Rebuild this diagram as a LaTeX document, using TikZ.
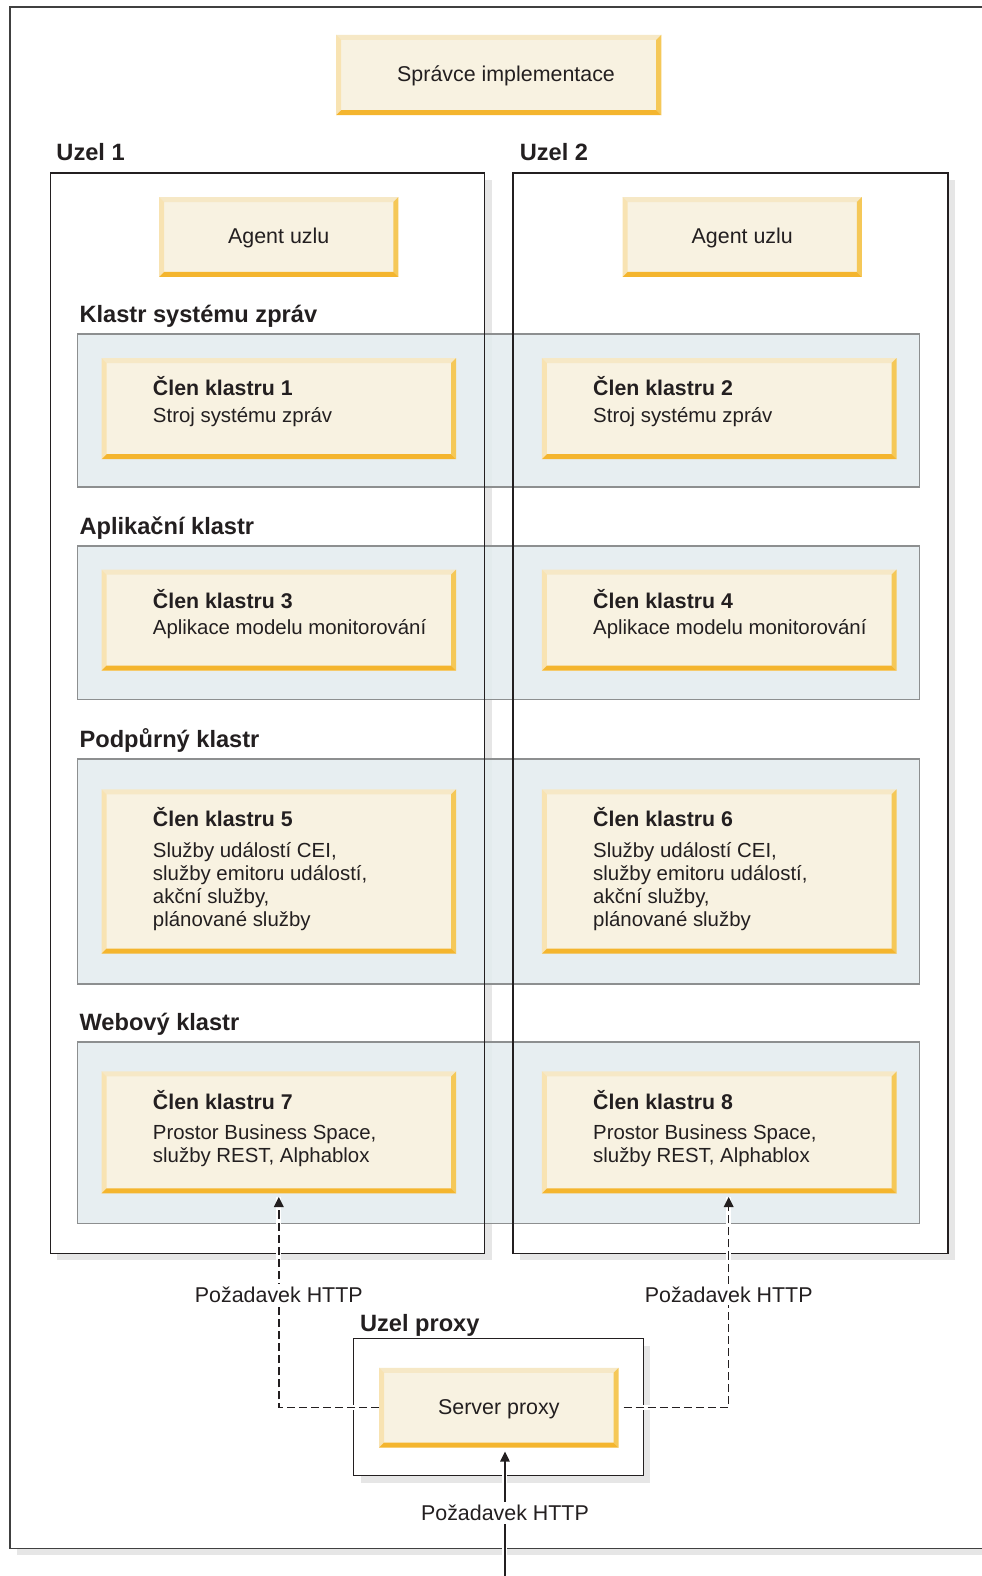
\documentclass[tikz,border=0pt]{standalone}
\usepackage{fontspec}
\setmainfont{Liberation Sans}
\usetikzlibrary{calc,arrows.meta}
\definecolor{cream}{HTML}{F8F2E1}
\definecolor{bvtop}{HTML}{F6E8C6}
\definecolor{bvleft}{HTML}{F8E3B2}
\definecolor{bvright}{HTML}{F5C858}
\definecolor{bvbot}{HTML}{F4B52E}
\definecolor{clfill}{HTML}{E3ECEF}
\definecolor{clline}{HTML}{8D8F90}
\definecolor{shadowgrey}{HTML}{E6E6E6}
\definecolor{ink}{HTML}{231F20}
\newcommand\bevelbox[1]{%
  \fill[bvtop] (#1.north west) -- (#1.north east) -- ($(#1.north east)+(-5,5)$) -- ($(#1.north west)+(5,5)$) -- cycle;
  \fill[bvleft] (#1.north west) -- ($(#1.north west)+(5,5)$) -- ($(#1.south west)+(5,-5)$) -- (#1.south west) -- cycle;
  \fill[bvright] (#1.north east) -- ($(#1.north east)+(-5,5)$) -- ($(#1.south east)+(-5,-5)$) -- (#1.south east) -- cycle;
  \fill[bvbot] (#1.south west) -- (#1.south east) -- ($(#1.south east)+(-5,-5)$) -- ($(#1.south west)+(5,-5)$) -- cycle;
}
\newcommand\mtitle[1]{\rule{0pt}{20pt}{\fontsize{21.2}{22.8}\selectfont\bfseries #1}}
\begin{document}
\begin{tikzpicture}[x=1pt,y=-1pt,
  lbl/.style={font=\fontsize{23.5}{27}\selectfont\bfseries, anchor=base west, inner sep=0pt, text=ink},
  mtxt/.style={font=\fontsize{20.3}{22.8}\selectfont, align=left, anchor=north west, inner sep=0pt, text=ink},
  boxnode/.style={fill=cream, inner sep=0pt, text=ink, font=\fontsize{21.3}{24}\selectfont, text height=15.3pt, text depth=1.5pt},
  mbox/.style={fill=cream, inner sep=0pt, minimum width=352.4pt},
  frame/.style={draw=ink, line width=1.3pt},
  outer/.style={draw=black!75, line width=1.3pt},
  cluster/.style={fill=clfill, fill opacity=0.85, draw=clline, line width=1.6pt},
  halo/.style={preaction={draw=white, line width=5pt, solid, arrows=-}},
  dflow/.style={halo, draw=ink, line width=1.5pt, dash pattern=on 8pt off 4pt, -{Triangle[length=10pt,width=9.5pt]}},
  sflow/.style={halo, draw=ink, line width=1.4pt, -{Triangle[length=10pt,width=9.5pt]}},
  req/.style={fill=white, inner sep=3pt, text=ink, font=\fontsize{21.3}{24}\selectfont, anchor=base}
]
\useasboundingbox (0,0) rectangle (977,1568);
\clip (0,0) rectangle (977,1568);
\fill[white] (0,0) rectangle (977,1568);

% outer frame
\fill[shadowgrey] (17,14) rectangle (990,1547.4);
\fill[white] (10,7) rectangle (990,1540.4);
\draw[outer] (990,7) -- (10,7) -- (10,1540.4) -- (990,1540.4);

% node frames: shadows and white interiors
\fill[shadowgrey] (57,179) rectangle (489,1254);
\fill[white] (50,172) rectangle (482,1247);
\fill[shadowgrey] (517.5,179) rectangle (950.3,1254);
\fill[white] (510.5,172) rectangle (943.3,1247);
\fill[shadowgrey] (359,1339) rectangle (647,1475);
\fill[white] (352,1332) rectangle (640,1468);

% clusters
\draw[cluster] (77,332.3) rectangle (914.7,484.8);
\draw[cluster] (77,543) rectangle (914.7,696);
\draw[cluster] (77,755) rectangle (914.7,979);
\draw[cluster] (77,1037) rectangle (914.7,1217.1);

% frame lines
\draw[frame] (50,172) rectangle (482,1247);
\draw[frame] (510.5,172) rectangle (943.3,1247);
\draw[frame] (352,1332) rectangle (640,1468);

% labels
\node[lbl] (lu1) at (56,160) {Uzel 1};
\node[lbl] (lu2) at (517,160) {Uzel 2};
\node[lbl] (lc1) at (79,321) {Klastr systému zpráv};
\node[lbl] (lc2) at (79,531.5) {Aplikační klastr};
\node[lbl] (lc3) at (79,743.5) {Podpůrný klastr};
\node[lbl] (lc4) at (79,1025.5) {Webový klastr};
\node[lbl] (lup) at (358,1325) {Uzel proxy};

% single-line boxes
\node[boxnode, minimum width=323pt, minimum height=79.6pt] (dm) at (496.2,74.6) {};
\bevelbox{dm}
\node[boxnode] (dmt) at (503.5,74.6) {Správce implementace};
\node[boxnode, minimum width=237.5pt, minimum height=79pt] (ag1) at (277.3,235.8) {Agent uzlu};
\bevelbox{ag1}
\node[boxnode, minimum width=237.5pt, minimum height=79pt] (ag2) at (738.5,235.8) {Agent uzlu};
\bevelbox{ag2}
\node[boxnode, minimum width=237.8pt, minimum height=79pt] (srv) at (496.3,1400.5) {Server proxy};
\bevelbox{srv}

% cluster members
\node[mbox, minimum height=100.2pt] (m1) at (277.4,406.6) {};
\bevelbox{m1}
\node[mbox, minimum height=100.2pt] (m2) at (715.6,406.6) {};
\bevelbox{m2}
\node[mbox, minimum height=100.2pt] (m3) at (277.4,617) {};
\bevelbox{m3}
\node[mbox, minimum height=100.2pt] (m4) at (715.6,617) {};
\bevelbox{m4}
\node[mbox, minimum height=163pt] (m5) at (277.4,867) {};
\bevelbox{m5}
\node[mbox, minimum height=163pt] (m6) at (715.6,867) {};
\bevelbox{m6}
\node[mbox, minimum height=121pt] (m7) at (277.4,1126.7) {};
\bevelbox{m7}
\node[mbox, minimum height=121pt] (m8) at (715.6,1126.7) {};
\bevelbox{m8}

\node[mtxt] (t1) at (152,373.7) {\mtitle{Člen klastru 1}\\[3.5pt]Stroj systému zpráv};
\node[mtxt] (t2) at (590,373.7) {\mtitle{Člen klastru 2}\\[3.5pt]Stroj systému zpráv};
\node[mtxt] (t3) at (152,585) {\mtitle{Člen klastru 3}\\[3.5pt]Aplikace modelu monitorování};
\node[mtxt] (t4) at (590,585) {\mtitle{Člen klastru 4}\\[3.5pt]Aplikace modelu monitorování};
\node[mtxt] (t5) at (152,802.5) {\mtitle{Člen klastru 5}\\[8pt]Služby událostí CEI,\\služby emitoru událostí,\\akční služby,\\plánované služby};
\node[mtxt] (t6) at (590,802.5) {\mtitle{Člen klastru 6}\\[8pt]Služby událostí CEI,\\služby emitoru událostí,\\akční služby,\\plánované služby};
\node[mtxt] (t7) at (152,1084) {\mtitle{Člen klastru 7}\\[6.7pt]Prostor Business Space,\\služby REST, Alphablox};
\node[mtxt] (t8) at (590,1084) {\mtitle{Člen klastru 8}\\[6.7pt]Prostor Business Space,\\služby REST, Alphablox};

% connectors
\coordinate (rc) at (725,1400.5);
\coordinate (inp) at (502.4,1575);
\draw[dflow, shorten >=3.5pt] (srv.west) -| (m7.south);
\draw[dflow, shorten <=5pt, shorten >=3.5pt] (srv.east) -- (rc) -- (rc |- m8.south);
\draw[sflow, shorten >=4pt] (inp) -- (inp |- srv.south);

\node[req] (r1) at (277.4,1295.5) {Požadavek HTTP};
\node[req] (r2) at (725,1295.5) {Požadavek HTTP};
\node[req] (r3) at (502.4,1513) {Požadavek HTTP};
\end{tikzpicture}
\end{document}
